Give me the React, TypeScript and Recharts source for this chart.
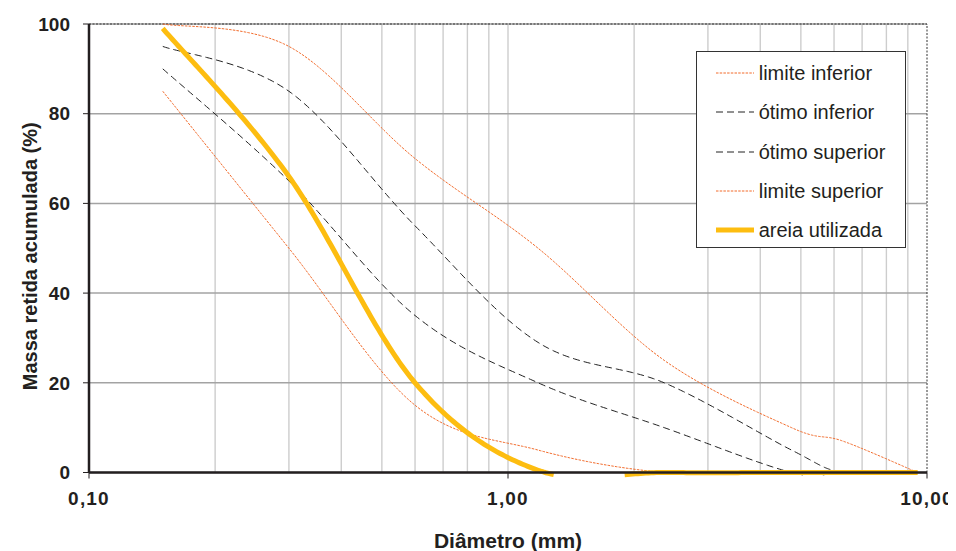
import React from 'react';
import { LineChart, Line, XAxis, YAxis, CartesianGrid, Legend, ReferenceLine } from 'recharts';

const diametros = [0.15, 0.3, 0.6, 1.18, 2.36, 4.75, 6.3, 9.5];
const limiteInferior = [85, 50, 15, 5, 0, 0, 0, 0];
const otimoInferior = [90, 65, 35, 20, 10, 0, 0, 0];
const otimoSuperior = [95, 85, 55, 29, 20, 5, 0, 0];
const limiteSuperior = [100, 95, 70, 50, 25, 10, 7, 0];
const areiaUtilizada = [99, 66, 20, 0.5, 0, 0, 0, 0];

const xTicks = [0.1, 1, 10];
const yTicks = [0, 20, 40, 60, 80, 100];
const minorX = [0.2, 0.3, 0.4, 0.5, 0.6, 0.7, 0.8, 0.9, 1, 2, 3, 4, 5, 6, 7, 8, 9];

const data = diametros.map((d, i) => ({
  d,
  li: limiteInferior[i],
  oi: otimoInferior[i],
  os: otimoSuperior[i],
  ls: limiteSuperior[i],
  au: areiaUtilizada[i],
}));

const ORANGE = '#f26b2b';
const DARK = '#231f20';
const YELLOW = '#fdbd10';

const series = [
  { key: 'li', name: 'limite inferior', color: ORANGE, width: 1, dash: '2.5 1.2' },
  { key: 'oi', name: 'ótimo inferior', color: '#222', width: 1, dash: '7 4' },
  { key: 'os', name: 'ótimo superior', color: '#222', width: 1, dash: '7 4' },
  { key: 'ls', name: 'limite superior', color: ORANGE, width: 1, dash: '2.5 1.2' },
  { key: 'au', name: 'areia utilizada', color: YELLOW, width: 5, dash: undefined as string | undefined },
];

// Excel-like smoothed line (Catmull-Rom bezier), clipped slightly below the lowest point
function excelCurve(context: any) {
  let pts: number[][] = [];
  return {
    areaStart() {},
    areaEnd() {},
    lineStart() {
      pts = [];
    },
    point(x: number, y: number) {
      pts.push([+x, +y]);
    },
    lineEnd() {
      const n = pts.length;
      if (!n) return;
      if (n === 1) {
        context.moveTo(pts[0][0], pts[0][1]);
        return;
      }
      const limit = Math.max(...pts.map((p) => p[1])) + 2.5;
      let pen = false;
      const emit = (x: number, y: number) => {
        if (y > limit) {
          pen = false;
          return;
        }
        if (!pen) {
          context.moveTo(x, y);
          pen = true;
        } else context.lineTo(x, y);
      };
      emit(pts[0][0], pts[0][1]);
      for (let i = 0; i < n - 1; i++) {
        const p0 = pts[i - 1] || pts[i];
        const p1 = pts[i];
        const p2 = pts[i + 1];
        const p3 = pts[i + 2] || pts[i + 1];
        const c1x = p1[0] + (p2[0] - p0[0]) / 6;
        const c1y = p1[1] + (p2[1] - p0[1]) / 6;
        const c2x = p2[0] - (p3[0] - p1[0]) / 6;
        const c2y = p2[1] - (p3[1] - p1[1]) / 6;
        const N = 48;
        for (let k = 1; k <= N; k++) {
          const t = k / N;
          const u = 1 - t;
          const x = u * u * u * p1[0] + 3 * u * u * t * c1x + 3 * u * t * t * c2x + t * t * t * p2[0];
          const y = u * u * u * p1[1] + 3 * u * u * t * c1y + 3 * u * t * t * c2y + t * t * t * p2[1];
          emit(x, y);
        }
      }
    },
  };
}

const fmtX = (v: number) => v.toFixed(2).replace('.', ',');

const XTick = (props: any) => {
  const { x, y, payload } = props;
  return (
    <text x={x} y={y} dy="0.71em" textAnchor="middle" fontSize={19} fontWeight="bold" fill={DARK} style={{ letterSpacing: '1.2px' }}>
      {fmtX(payload.value)}
    </text>
  );
};

const YTick = (props: any) => {
  const { x, y, payload } = props;
  return (
    <text x={x} y={y} dy="0.355em" textAnchor="end" fontSize={19} fontWeight="bold" fill={DARK}>
      {payload.value}
    </text>
  );
};

const XLabel = (props: any) => {
  const vb = props.viewBox || {};
  const cx = vb.x + vb.width / 2;
  return (
    <text x={cx} y={vb.y + 75.8} textAnchor="middle" fontSize={21} fontWeight="bold" fill={DARK}>
      Diâmetro (mm)
    </text>
  );
};

const YLabel = (props: any) => {
  const vb = props.viewBox || {};
  const cy = vb.y + vb.height / 2 + 8;
  const cx = 28.5;
  return (
    <text x={cx} y={cy} transform={`rotate(-90, ${cx}, ${cy})`} textAnchor="middle" fontSize={20} fontWeight="bold" fill={DARK}>
      Massa retida acumulada (%)
    </text>
  );
};

const LegendBox = () => (
  <div
    style={{
      boxSizing: 'border-box',
      width: 210,
      height: 197,
      border: '1px solid #333',
      background: '#fff',
      paddingTop: 1.5,
      fontFamily: "'Liberation Sans', Arial, sans-serif",
    }}
  >
    {series.map((s) => (
      <div key={s.key} style={{ display: 'flex', alignItems: 'center', height: 39.3 }}>
        <svg width={38} height={10} style={{ marginLeft: 19, marginRight: 5, display: 'block' }}>
          <line x1={0} y1={5} x2={38} y2={5} stroke={s.color} strokeWidth={s.width} strokeDasharray={s.dash} />
        </svg>
        <span style={{ fontSize: 20, color: DARK, whiteSpace: 'nowrap', lineHeight: '20px' }}>{s.name}</span>
      </div>
    ))}
  </div>
);

export default function App() {
  return (
    <LineChart
      width={948}
      height={543}
      data={data}
      margin={{ top: 16, right: 29, bottom: 6.5, left: 0 }}
      style={{ fontFamily: "'Liberation Sans', Arial, sans-serif", background: '#fff' }}
    >
      <CartesianGrid horizontal={false} verticalValues={minorX} stroke="#cdcdcd" strokeWidth={1.4} />
      <CartesianGrid vertical={false} stroke="#a3a3a3" strokeWidth={1.5} />
      <XAxis
        dataKey="d"
        type="number"
        scale="log"
        domain={[0.1, 10]}
        ticks={xTicks}
        interval={0}
        height={72}
        tickSize={6}
        tickMargin={13}
        axisLine={{ stroke: DARK, strokeWidth: 2.5 }}
        tickLine={{ stroke: DARK, strokeWidth: 1 }}
        tick={<XTick />}
        label={<XLabel />}
      />
      <YAxis
        type="number"
        domain={[0, 100]}
        ticks={yTicks}
        interval={0}
        width={81}
        tickSize={6}
        tickMargin={13}
        axisLine={{ stroke: DARK, strokeWidth: 2.5 }}
        tickLine={{ stroke: DARK, strokeWidth: 1 }}
        tick={<YTick />}
        label={<YLabel />}
      />
      <ReferenceLine y={100} stroke="#333" strokeDasharray="2 1.5" strokeWidth={1} />
      <ReferenceLine x={10} stroke="#333" strokeDasharray="2 1.5" strokeWidth={1} />
      {series.map((s) => (
        <Line
          key={s.key}
          dataKey={s.key}
          name={s.name}
          type={excelCurve as any}
          stroke={s.color}
          strokeWidth={s.width}
          strokeDasharray={s.dash}
          dot={false}
          activeDot={false}
          isAnimationActive={false}
        />
      ))}
      <Legend
        layout="horizontal"
        verticalAlign="middle"
        align="center"
        content={<LegendBox />}
        wrapperStyle={{ left: 687.7, top: 43, width: 210, height: 197 }}
      />
    </LineChart>
  );
}
